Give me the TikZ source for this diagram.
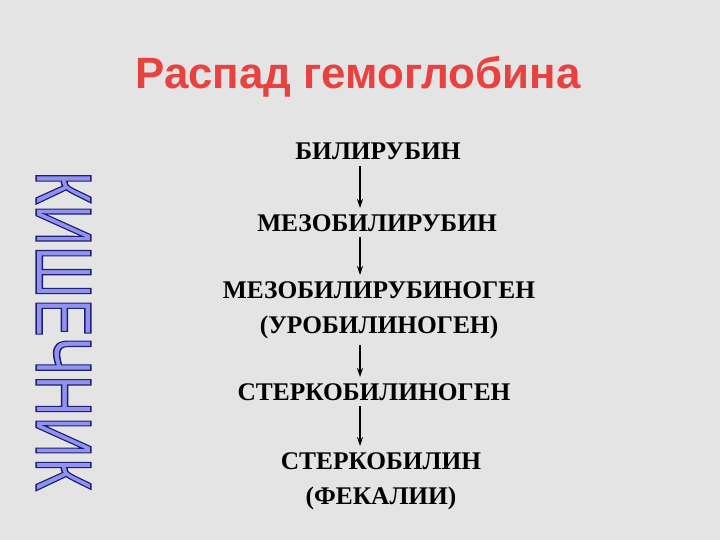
\documentclass[tikz,border=0pt]{standalone}
\usepackage{fontspec}
\setmainfont{Liberation Serif}
\newfontfamily\titlefont{Liberation Sans}
\usetikzlibrary{arrows.meta}

\definecolor{slidebg}{RGB}{228,228,228}
\definecolor{titlered}{RGB}{232,66,64}
\definecolor{wordfill}{RGB}{146,146,240}

% filled letters with a dark blue outline
\newcommand{\outlinedword}[1]{\special{pdf:literal direct q 2 Tr 1.5 w 0.12 0.12 0.45 RG}#1\special{pdf:literal direct Q}}

\tikzset{
	stage/.style={font=\fontsize{25.5}{36}\selectfont\bfseries, align=center, inner sep=0pt, anchor=north},
	flow/.style={-{Stealth[length=9bp,width=6bp]}, line width=1.2bp, shorten <=6bp, shorten >=6bp},
}

\begin{document}
\begin{tikzpicture}[x=1bp,y=-1bp]
			\fill[slidebg] (0,0) rectangle (720,540);
			
			\node[anchor=base, text=titlered, font=\titlefont\bfseries\fontsize{44}{44}\selectfont] (title) at (358,89) {Распад гемоглобина};
			
			\node[stage] (bili) at (378,143) {БИЛИРУБИН};
			\node[stage] (mezo) at (377,214) {МЕЗОБИЛИРУБИН};
			\node[stage] (mezogen) at (379,281) {МЕЗОБИЛИРУБИНОГЕН\\(УРОБИЛИНОГЕН)};
			\node[stage] (sterkogen) at (374,383) {СТЕРКОБИЛИНОГЕН};
			\node[stage] (sterko) at (381,452) {СТЕРКОБИЛИН\\(ФЕКАЛИИ)};
			
			\coordinate (axis) at (360,0);
			
			\draw[flow] (bili.south -| axis) to (mezo.north -| axis);
			\draw[flow] (mezo.south -| axis) to (mezogen.north -| axis);
			\draw[flow] (mezogen.south -| axis) to (sterkogen.north -| axis);
			\draw[flow] (sterkogen.south -| axis) to (sterko.north -| axis);
			
			\node[rotate=-90, inner sep=0pt, text=wordfill, font=\titlefont\fontsize{80}{80}\selectfont] (gut) at (63.5,331) {\scalebox{0.72}[1]{\outlinedword{КИШЕЧНИК}}};
\end{tikzpicture}
\end{document}
